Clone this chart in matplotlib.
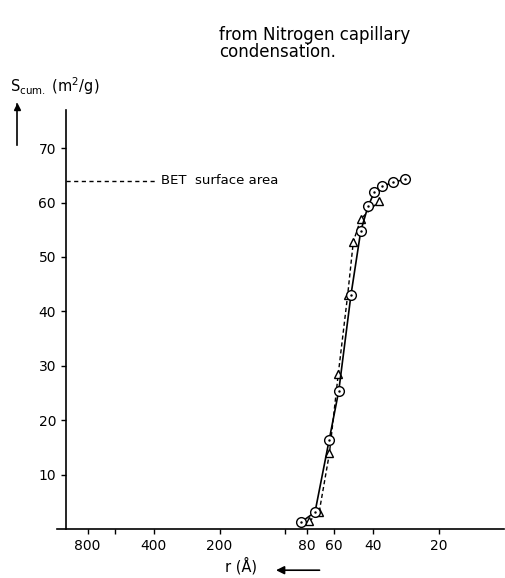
import numpy as np
import matplotlib.pyplot as plt

# pore radius r (Angstrom) vs cumulative surface area (m2/g)
r_circ = [85.2, 73.3, 63.2, 57.1, 50.2, 45.3, 42.0, 39.3, 36.3, 32.2, 28.5]
s_circ = [1.2, 3.1, 16.3, 25.4, 43.1, 54.8, 59.3, 61.9, 63.0, 63.7, 64.3]
r_tri = [77.8, 70.1, 63.0, 57.4, 52.0, 49.0, 45.3, 37.3]
s_tri = [1.4, 3.2, 13.9, 28.5, 43.0, 52.8, 57.0, 60.3]
bet_area = 64

xticks = [800, 600, 400, 200, 100, 80, 60, 40, 20]
xticklabels = ['800', '', '400', '200', '', '80', '60', '40', '20']
yticks = [10, 20, 30, 40, 50, 60, 70]

plt.rcParams['font.family'] = 'DejaVu Sans'
fig = plt.figure(figsize=(5.06, 5.78), dpi=100)
ax = fig.add_axes([0.1134, 0.0848, 0.8836, 0.7247])

ax.set_xscale('log')
ax.set_xlim(1100, 10)
ax.set_ylim(0, 77)

# dashed series (triangles)
ax.plot(r_tri, s_tri, color='black', lw=1.0, ls=(0, (3, 2)),
        marker='^', ms=6, mfc='white', mec='black', mew=1.0, zorder=3)
# solid series (circles with centre dot)
ax.plot(r_circ, s_circ, color='black', lw=1.2,
        marker='o', ms=7, mfc='white', mec='black', mew=1.0, zorder=4)
ax.plot(r_circ, s_circ, ls='none', marker='.', ms=1.5, color='black', zorder=5)

# BET surface area reference
ax.plot([1000, 394], [bet_area, bet_area], color='black', lw=1.0,
        ls=(0, (3, 2.5)))
ax.text(370, bet_area, 'BET  surface area', fontsize=9.5, va='center',
        ha='left')

ax.spines['top'].set_visible(False)
ax.spines['right'].set_visible(False)
ax.spines['left'].set_position(('data', 1000))
ax.spines['left'].set_bounds(0, 77)
for sp in ['left', 'bottom']:
    ax.spines[sp].set_linewidth(1.2)

ax.set_xticks(xticks)
ax.set_xticklabels(xticklabels)
ax.minorticks_off()
ax.xaxis.set_minor_locator(plt.NullLocator())
ax.set_yticks(yticks)
ax.tick_params(axis='both', direction='out', length=3.5, width=1.0,
               labelsize=10, pad=4)

# axis titles
fig.text(0.02, 0.84, r'S$_{\mathrm{cum.}}$ (m$^2$/g)', fontsize=10.5,
         ha='left', va='baseline')
fig.text(0.445, 0.011, 'r (Å)', fontsize=10.5, ha='left', va='baseline')
fig.add_artist(plt.Line2D([0.034, 0.034], [0.75, 0.82], color='black',
                          lw=1.2))
fig.add_artist(plt.Line2D([0.034], [0.815], marker='^', ms=4,
                          color='black'))
ax.annotate('', xy=(0.54, 0.0135), xytext=(0.637, 0.0135),
            xycoords='figure fraction', textcoords='figure fraction',
            arrowprops=dict(arrowstyle='-|>', color='black', lw=1.2,
                            mutation_scale=12))

fig.text(0.433, 0.955, 'from Nitrogen capillary\ncondensation.',
         fontsize=12, ha='left', va='top', linespacing=0.95)

fig.savefig('out.png', dpi=100)
